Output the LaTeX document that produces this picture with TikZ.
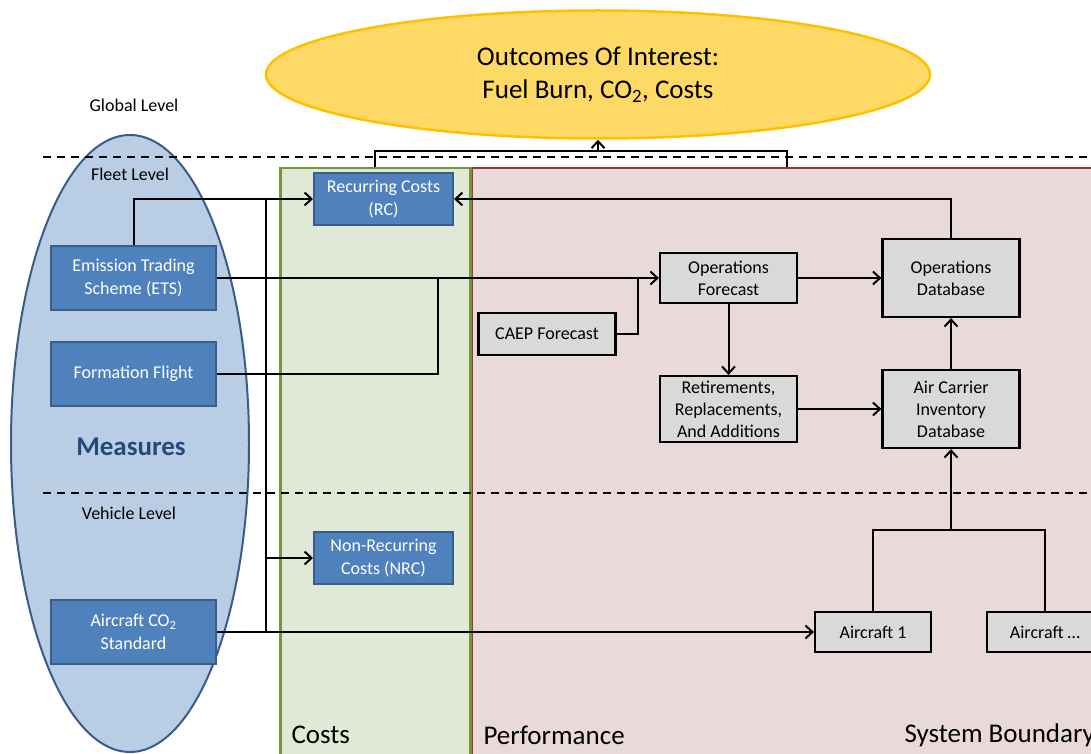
\documentclass[tikz,border=0pt]{standalone}
\usepackage{fontspec}
\setmainfont{Carlito}
\usetikzlibrary{shapes.geometric,arrows.meta}
\begin{document}
\begin{tikzpicture}[x=1pt,y=-1pt,>={Straight Barb[length=7pt,width=13pt]},
    every node/.style={font=\fontsize{18}{22}\selectfont},
    measure/.style={draw=colEdge,line width=2pt,fill=colBox,text=white,align=center,minimum width=165pt,minimum height=64pt,font=\fontsize{18}{23}\selectfont},
    cost/.style={draw=colEdge,line width=2pt,fill=colBox,text=white,align=center,minimum width=139pt,minimum height=52pt,font=\fontsize{18}{23}\selectfont},
    model/.style={draw=black,line width=2.2pt,fill=colGray,align=center,minimum width=137pt,inner sep=2pt},
    panel/.style={anchor=north west,minimum height=600pt,line width=2.5pt},
    big/.style={font=\fontsize{27}{33}\selectfont},
    link/.style={line width=2pt},
    levelline/.style={line width=1.6pt,dash pattern=on 8pt off 6pt}]
    \definecolor{colOut}{RGB}{255,217,102}
    \definecolor{colOutEdge}{RGB}{255,192,0}
    \definecolor{colMeas}{RGB}{185,205,229}
    \definecolor{colEdge}{RGB}{56,93,138}
    \definecolor{colBox}{RGB}{79,129,189}
    \definecolor{colText}{RGB}{36,74,124}
    \definecolor{colCost}{RGB}{224,232,214}
    \definecolor{colCostEdge}{RGB}{119,147,60}
    \definecolor{colPerf}{RGB}{234,217,217}
    \definecolor{colPerfEdge}{RGB}{149,55,53}
    \definecolor{colGray}{RGB}{217,217,217}
    \clip (0,0) rectangle (1091,754);
    \node[panel,draw=colPerfEdge,fill=colPerf,minimum width=632pt] (perf) at (470,167) {};
    \node[panel,draw=colCostEdge,fill=colCost,minimum width=190pt] (costs) at (279,167) {};
    \node[draw=colEdge,line width=2pt,fill=colMeas,ellipse,minimum width=238pt,minimum height=617pt] (measures) at (130,443.5) {};
    \node[draw=colOutEdge,line width=2.5pt,fill=colOut,ellipse,minimum width=664pt,minimum height=128pt,align=center,big] (outcomes) at (598,74.5) {Outcomes Of Interest:\\Fuel Burn, CO\textsubscript{2}, Costs};
    \draw[levelline] (43,157) -- (1091,157);
    \draw[levelline] (43,493) -- (1091,493);
    \node (global) at (134,105) {Global Level};
    \node (fleet) at (130,174) {Fleet Level};
    \node (vehicle) at (129,513) {Vehicle Level};
    \node[text=colText,font=\fontsize{27}{33}\selectfont\bfseries] (mlabel) at (131,447) {Measures};
    \node[big,anchor=west] (clabel) at (288,735) {Costs};
    \node[big,anchor=west] (plabel) at (480,735) {Performance};
    \node[big,anchor=west] (slabel) at (901,735) {System Boundary};
    \node[measure] (ets) at (133.5,278) {Emission Trading\\Scheme (ETS)};
    \node[measure] (ff) at (133.5,374) {Formation Flight};
    \node[measure] (aco2) at (133.5,632) {Aircraft CO\textsubscript{2}\\Standard};
    \node[cost] (rc) at (383.5,199) {Recurring Costs\\(RC)};
    \node[cost] (nrc) at (383.5,558) {Non-Recurring\\Costs (NRC)};
    \node[model,minimum height=50pt] (opsf) at (728.5,278) {Operations\\Forecast};
    \node[model,minimum height=78pt] (opsdb) at (951,278) {Operations\\Database};
    \node[model,minimum height=42pt] (caep) at (547,334) {CAEP Forecast};
    \node[model,minimum height=66pt] (retire) at (728.5,409) {Retirements,\\Replacements,\\And Additions};
    \node[model,minimum height=78pt] (acid) at (951,409) {Air Carrier\\Inventory\\Database};
    \node[model,minimum width=116pt,minimum height=40pt] (ac1) at (873,632) {Aircraft 1};
    \node[model,minimum width=116pt,minimum height=40pt] (acx) at (1045,632) {Aircraft \dots};
    \coordinate (fork) at (598,151);
    \coordinate (bustop) at (266,199);
    \coordinate (busbot) at (266,632);
    \coordinate (joinA) at (438,278);
    \coordinate (joinB) at (638,278);
    \coordinate (split) at (951,530);
    \draw[link] (costs.north) |- (fork) -| (perf.north);
    \draw[link,->] (fork) -- (outcomes.south);
    \draw[link,->] (ets.north) |- (rc.west);
    \draw[link] (busbot) -- (bustop);
    \draw[link,->] (busbot |- nrc.west) -- (nrc.west);
    \draw[link,->] (aco2.east) -- (ac1.west);
    \draw[link,->] (ets.east) -- (opsf.west);
    \draw[link] (ff.east) -| (joinA);
    \draw[link] (caep.east) -| (joinB);
    \draw[link,->] (opsf.east) -- (opsdb.west);
    \draw[link,->] (opsf.south) -- (retire.north);
    \draw[link,->] (retire.east) -- (acid.west);
    \draw[link,->] (acid.north) -- (opsdb.south);
    \draw[link,->] (opsdb.north) |- (rc.east);
    \draw[link] (ac1.north) |- (split) -| (acx.north);
    \draw[link,->] (split) -- (acid.south);
\end{tikzpicture}
\end{document}
